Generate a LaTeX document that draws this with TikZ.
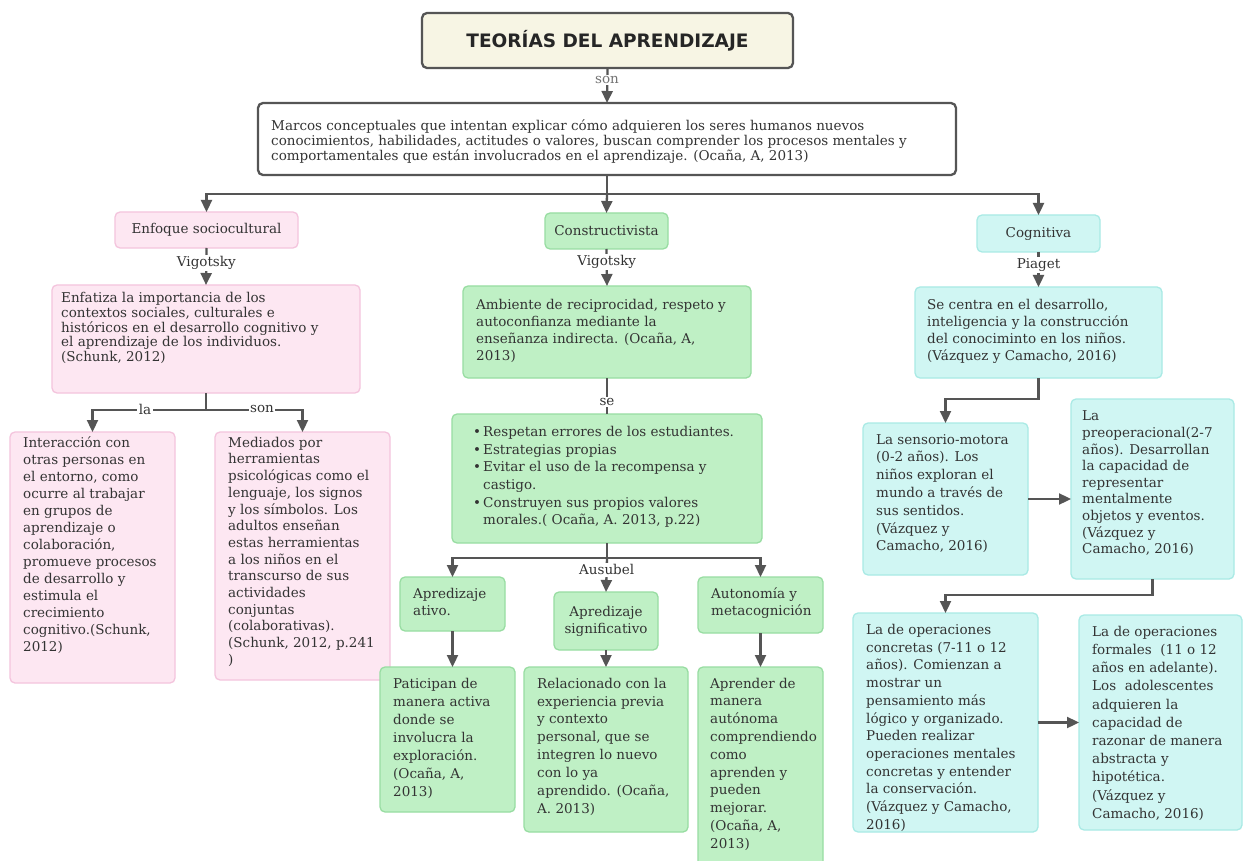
\documentclass[tikz,border=0pt]{standalone}
\usepackage{fontspec}
\setmainfont{DejaVu Serif}
\newfontfamily\titlefont{DejaVu Sans}
\usetikzlibrary{arrows.meta}
\definecolor{ln}{HTML}{555555}
\definecolor{pinkf}{HTML}{FDE7F2}
\definecolor{pinkd}{HTML}{F4C4DD}
\definecolor{grnf}{HTML}{BFF0C5}
\definecolor{grnd}{HTML}{98DDA2}
\definecolor{cyf}{HTML}{D0F6F3}
\definecolor{cyd}{HTML}{A9EAE5}
\definecolor{titf}{HTML}{F7F5E4}
\definecolor{txt}{HTML}{333333}
\newcommand\bx[7]{\node[#1, anchor=north west, inner sep=0pt, outer sep=0pt, minimum width={(#5-#3)*1pt}, minimum height={(#6-#4)*1pt}] (#2) at (#3,#4) {#7};}
\newcommand\tx[5]{\node[bodytext, font=\fontsize{13.5}{#4}\selectfont] (#1) at (#2,#3) {#5};}
\begin{document}
\begin{tikzpicture}[x=1pt,y=-1pt,
  conn/.style={draw=ln, line width=2.3pt},
  arr/.style={conn, -{Triangle[width=11pt,length=12pt]}},
  pinkbox/.style={draw=pinkd, fill=pinkf, line width=1.3pt, rounded corners=5pt, text=txt, font=\fontsize{13.5}{17}\selectfont},
  grnbox/.style={draw=grnd, fill=grnf, line width=1.3pt, rounded corners=5pt, text=txt, font=\fontsize{13.5}{17}\selectfont},
  cybox/.style={draw=cyd, fill=cyf, line width=1.3pt, rounded corners=5pt, text=txt, font=\fontsize{13.5}{17}\selectfont},
  mainbox/.style={draw=ln, fill=white, line width=2.3pt, rounded corners=5pt},
  titbox/.style={draw=ln, fill=titf, line width=2.3pt, rounded corners=5pt, text=black!85, font=\titlefont\bfseries\fontsize{18.5}{20}\selectfont},
  bodytext/.style={anchor=north west, inner sep=0pt, align=left, text=txt, execute at begin node=\strut},
  lbl/.style={fill=white, inner sep=1.5pt, text=txt, font=\fontsize{13.5}{15}\selectfont},
]
\fill[white] (0,0) rectangle (1243,861);
\useasboundingbox (0,0) rectangle (1243,861);

% boxes
\bx{titbox}{title}{422}{13}{793}{68}{TEORÍAS DEL APRENDIZAJE}
\bx{mainbox}{main}{258}{103}{956}{175}{}
\tx{maint}{271}{120.0}{15}{Marcos conceptuales que intentan explicar cómo adquieren los seres humanos nuevos\\conocimientos, habilidades, actitudes o valores, buscan comprender los procesos mentales y\\comportamentales que están involucrados en el aprendizaje. (Ocaña, A, 2013)}

% left column
\bx{pinkbox}{enf}{115}{212}{298}{248}{Enfoque sociocultural}
\bx{pinkbox}{enfd}{52}{285}{360}{393}{}
\tx{enfdt}{61}{292.2}{14.75}{Enfatiza la importancia de los\\contextos sociales, culturales e\\históricos en el desarrollo cognitivo y\\el aprendizaje de los individuos.\\(Schunk, 2012)}
\bx{pinkbox}{la1}{10}{432}{175}{683}{}
\tx{la1t}{23}{436.6}{17}{Interacción con\\otras personas en\\el entorno, como\\ocurre al trabajar\\en grupos de\\aprendizaje o\\colaboración,\\promueve procesos\\de desarrollo y\\estimula el\\crecimiento\\cognitivo.(Schunk,\\2012)}
\bx{pinkbox}{la2}{215}{432}{390}{680}{}
\tx{la2t}{228}{436.8}{16.7}{Mediados por\\herramientas\\psicológicas como el\\lenguaje, los signos\\y los símbolos. Los\\adultos enseñan\\estas herramientas\\a los niños en el\\transcurso de sus\\actividades\\conjuntas\\(colaborativas).\\(Schunk, 2012, p.241\\)}

% middle column
\bx{grnbox}{cons}{545}{213}{668}{249}{Constructivista}
\bx{grnbox}{amb}{463}{286}{751}{378}{}
\tx{ambt}{476}{298.6}{17}{Ambiente de reciprocidad, respeto y\\autoconfianza mediante la\\enseñanza indirecta. (Ocaña, A,\\2013)}
\bx{grnbox}{bul}{452}{414}{762}{543}{}
\tx{bult}{473}{426.2}{17.6}{\makebox[10pt][l]{•}Respetan errores de los estudiantes.\\\makebox[10pt][l]{•}Estrategias propias\\\makebox[10pt][l]{•}Evitar el uso de la recompensa y\\\hspace*{10pt}castigo.\\\makebox[10pt][l]{•}Construyen sus propios valores\\\hspace*{10pt}morales.( Ocaña, A. 2013, p.22)}
\bx{grnbox}{act}{400}{577}{505}{631}{}
\tx{actt}{413}{587.6}{17}{Apredizaje\\ativo.}
\bx{grnbox, align=center}{sig}{554}{592}{658}{650}{Apredizaje\\significativo}
\bx{grnbox}{aut}{698}{577}{823}{633}{}
\tx{autt}{711}{587.6}{17}{Autonomía y\\metacognición}
\bx{grnbox}{pat}{380}{667}{515}{812}{}
\tx{patt}{393}{677.6}{18}{Paticipan de\\manera activa\\donde se\\involucra la\\exploración.\\(Ocaña, A,\\2013)}
\bx{grnbox}{rel}{524}{667}{688}{832}{}
\tx{relt}{537}{677.7}{17.9}{Relacionado con la\\experiencia previa\\y contexto\\personal, que se\\integren lo nuevo\\con lo ya\\aprendido. (Ocaña,\\A. 2013)}
\bx{grnbox}{apr}{698}{667}{823}{872}{}
\tx{aprt}{710}{677.7}{17.8}{Aprender de\\manera\\autónoma\\comprendiendo\\como\\aprenden y\\pueden\\mejorar.\\(Ocaña, A,\\2013)}

% right column
\bx{cybox}{cog}{977}{215}{1100}{252}{Cognitiva}
\bx{cybox}{cen}{915}{287}{1162}{378}{}
\tx{cent}{927}{298.6}{17}{Se centra en el desarrollo,\\inteligencia y la construcción\\del conociminto en los niños.\\(Vázquez y Camacho, 2016)}
\bx{cybox}{sen}{863}{423}{1028}{575}{}
\tx{sent}{876}{434.0}{17.8}{La sensorio-motora\\(0-2 años). Los\\niños exploran el\\mundo a través de\\sus sentidos.\\(Vázquez y\\Camacho, 2016)}
\bx{cybox}{pre}{1071}{399}{1234}{579}{}
\tx{pret}{1082}{410.9}{16.6}{La\\preoperacional(2-7\\años). Desarrollan\\la capacidad de\\representar\\mentalmente\\objetos y eventos.\\(Vázquez y\\Camacho, 2016)}
\bx{cybox}{con}{853}{613}{1038}{832}{}
\tx{cont}{866}{624.1}{17.7}{La de operaciones\\concretas (7-11 o 12\\años). Comienzan a\\mostrar un\\pensamiento más\\lógico y organizado.\\Pueden realizar\\operaciones mentales\\concretas y entender\\la conservación.\\(Vázquez y Camacho,\\2016)}
\bx{cybox}{for}{1079}{615}{1242}{830}{}
\tx{fort}{1092}{625.8}{18.2}{La de operaciones\\formales~ (11 o 12\\años en adelante).\\Los~ adolescentes\\adquieren la\\capacidad de\\razonar de manera\\abstracta y\\hipotética.\\(Vázquez y\\Camacho, 2016)}

% connectors
\draw[arr] (title.south) -- (main.north);
\node[lbl, text=black!55] (lson) at (607,80) {son};

\coordinate (jtop) at ([yshift=-19pt]main.south);
\draw[conn] (main.south) -- (jtop);
\draw[arr] (jtop) -| (enf.north);
\draw[arr] (jtop) -| (cog.north);
\draw[arr] (jtop) -- (cons.north);

\draw[arr] (enf.south) -- (enfd.north) node[lbl, pos=0.4] (lv1) {Vigotsky};
\coordinate (jl) at ([yshift=-17pt]enfd.south);
\draw[conn] (enfd.south) -- (jl);
\draw[arr] (jl) -| (la1.north);
\draw[arr] (jl) -| (la2.north);
\node[lbl] (lla) at (145,409) {la};
\node[lbl] (lson2) at (262,409) {son};

\draw[arr] (cons.south) -- (amb.north) node[lbl, pos=0.35] (lv2) {Vigotsky};
\draw[conn] (amb.south) -- (bul.north) node[lbl, pos=0.67] (lse) {se};
\coordinate (jb) at ([yshift=-15pt]bul.south);
\draw[conn] (bul.south) -- (jb);
\draw[arr] (jb) -| (act.north);
\draw[arr] (jb) -| (aut.north);
\draw[arr] (jb) -- (sig.north) node[lbl, pos=0.35] (laus) {Ausubel};
\draw[arr] (act.south) -- (act.south |- pat.north);
\draw[arr] (sig.south) -- (sig.south |- rel.north);
\draw[arr] (aut.south) -- (aut.south |- apr.north);

\draw[arr] (cog.south) -- (cen.north) node[lbl, pos=0.37] (lpia) {Piaget};
\draw[arr] (cen.south) -- ++(0,21) -| (sen.north);
\draw[arr] (sen.east) -- (sen.east -| pre.west);
\draw[arr] (pre.south) -- ++(0,16) -| (con.north);
\draw[arr] (con.east) -- (con.east -| for.west);
\end{tikzpicture}
\end{document}
